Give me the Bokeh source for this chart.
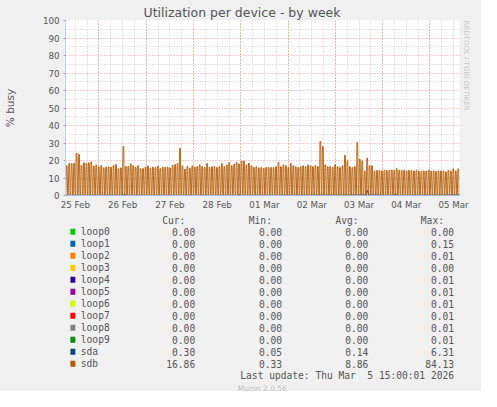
from bokeh.plotting import figure
from bokeh.models import Range1d, FixedTicker, Grid, Title
from bokeh.layouts import column
from bokeh.core.properties import value
from bokeh.embed import file_html
from bokeh.resources import INLINE

# ---------------- data ----------------
# x = hours since Wed 25 Feb 2026 07:00 (graph spans 200 h, up to Thu 5 Mar 15:00)
x_start, x_end = 0, 200
day_labels = ["25 Feb", "26 Feb", "27 Feb", "28 Feb", "01 Mar", "02 Mar", "03 Mar", "04 Mar", "05 Mar"]
label_hours = [5, 29, 53, 77, 101, 125, 149, 173, 197]          # noon of each day
midnight_hours = [17, 41, 65, 89, 113, 137, 161, 185]           # day boundaries
six_hour_hours = [5, 11, 17, 23, 29, 35, 41, 47, 53, 59, 65, 71, 77, 83, 89, 95, 101, 107,
                  113, 119, 125, 131, 137, 143, 149, 155, 161, 167, 173, 179, 185, 191, 197]
y_ticks = [0, 10, 20, 30, 40, 50, 60, 70, 80, 90, 100]
y_minor = [5, 15, 25, 35, 45, 55, 65, 75, 85, 95]

# sdb: busy spikes roughly every 75 minutes (peak % busy)
sdb_spacing_h = 1.25
sdb_peaks = [
    17.0, 18.3, 18.3, 18.3, 24.0, 23.5, 17.3, 18.7, 18.3, 18.7,
    19.2, 16.8, 17.5, 16.4, 17.1, 15.8, 16.2, 16.4, 16.2, 17.1,
    17.7, 15.4, 15.8, 28.0, 16.6, 16.6, 18.1, 17.1, 16.2, 17.1,
    15.4, 15.4, 16.2, 16.9, 15.6, 16.2, 16.0, 16.8, 15.4, 16.2,
    16.2, 16.2, 15.8, 17.3, 17.7, 18.3, 27.0, 16.9, 15.0, 16.6,
    15.6, 16.9, 16.2, 16.5, 17.5, 16.5, 16.0, 18.3, 16.0, 16.5,
    16.5, 16.0, 16.5, 18.3, 16.5, 17.5, 18.9, 17.0, 18.0, 18.9,
    18.0, 19.7, 19.7, 17.5, 18.5, 17.0, 16.0, 16.5, 15.8, 16.0,
    15.5, 16.0, 16.0, 16.0, 16.0, 16.5, 18.9, 16.5, 17.5, 17.0,
    16.0, 18.3, 17.0, 16.5, 16.0, 16.5, 17.0, 16.5, 17.5, 17.0,
    16.5, 17.0, 16.5, 30.9, 28.0, 17.5, 16.5, 16.5, 16.0, 17.7,
    16.5, 16.0, 17.0, 23.0, 19.8, 16.5, 16.0, 16.5, 30.3, 20.8,
    19.8, 14.0, 21.3, 17.0, 17.0, 14.0, 14.3, 14.3, 14.0, 14.3,
    14.3, 14.3, 14.5, 14.3, 15.4, 14.3, 14.3, 14.3, 14.0, 14.3,
    14.3, 14.0, 14.3, 14.0, 13.8, 14.0, 14.0, 14.3, 14.0, 14.0,
    13.8, 14.0, 14.0, 14.0, 13.5, 14.3, 14.0, 15.2, 14.0, 15.2,
]
sdb_trough = 0.4

# sda: near zero with a few small bumps
sda_hours = [0, 29.5, 30, 30.5, 88, 88.5, 89, 152.5, 153.3, 154, 167, 167.5, 168, 200]
sda_vals = [0.15, 0.15, 1.0, 0.15, 0.1, 0.8, 0.1, 0.3, 3.0, 0.3, 0.1, 1.2, 0.1, 0.3]

# legend table
series_names = ["loop0", "loop1", "loop2", "loop3", "loop4", "loop5", "loop6", "loop7",
                "loop8", "loop9", "sda", "sdb"]
series_colors = ["#00CC00", "#0066B3", "#FF8000", "#FFCC00", "#330099", "#990099", "#CCFF00",
                 "#FF0000", "#808080", "#008F00", "#00487D", "#B35A00"]
cur_vals = [0.00, 0.00, 0.00, 0.00, 0.00, 0.00, 0.00, 0.00, 0.00, 0.00, 0.30, 16.86]
min_vals = [0.00, 0.00, 0.00, 0.00, 0.00, 0.00, 0.00, 0.00, 0.00, 0.00, 0.05, 0.33]
avg_vals = [0.00, 0.00, 0.00, 0.00, 0.00, 0.00, 0.00, 0.00, 0.00, 0.00, 0.14, 8.86]
max_vals = [0.00, 0.15, 0.01, 0.00, 0.01, 0.01, 0.01, 0.01, 0.01, 0.01, 6.31, 84.13]

# ---------------- styles ----------------
BG = "#F0F0F0"
TXT = "#555555"
W = 481

# ---------------- main chart ----------------
p = figure(width=W, height=212, x_range=Range1d(x_start, x_end), y_range=Range1d(0, 100),
           output_backend="svg", toolbar_location=None,
           min_border_left=58, min_border_right=22, min_border_top=20, min_border_bottom=17)
p.border_fill_color = BG
p.background_fill_color = "white"
p.outline_line_color = None

p.title = Title(text="Utilization per device - by week", align="left", offset=78,
                text_font="DejaVu Sans", text_font_size="12.5px", text_font_style="normal",
                text_color=TXT, standoff=2)
p.add_layout(Title(text="RRDTOOL / TOBI OETIKER", align="left", offset=0,
                   text_font="DejaVu Sans", text_font_size="7px", text_font_style="normal",
                   text_color="#C8C8C8", standoff=4), "right")

# y axis
p.yaxis.ticker = FixedTicker(ticks=y_ticks, minor_ticks=y_minor)
p.yaxis.axis_label = "% busy"
p.yaxis.axis_label_text_font = "DejaVu Sans"
p.yaxis.axis_label_text_font_size = "10.5px"
p.yaxis.axis_label_text_font_style = "normal"
p.yaxis.axis_label_text_color = TXT
p.yaxis.axis_label_standoff = 24
p.yaxis.major_label_text_font = "DejaVu Sans"
p.yaxis.major_label_text_font_size = "8.7px"
p.yaxis.major_label_text_color = TXT
p.yaxis.major_label_standoff = 4
p.yaxis.major_tick_out = 2
p.yaxis.major_tick_in = 0
p.yaxis.major_tick_line_color = "#A0A0A0"
p.yaxis.minor_tick_out = 0
p.yaxis.minor_tick_in = 0
p.yaxis.axis_line_color = "#C4CCF0"

# x axis
p.xaxis.ticker = FixedTicker(ticks=label_hours)
p.xaxis.major_label_overrides = {h: lab for h, lab in zip(label_hours, day_labels)}
p.xaxis.major_label_text_font = "DejaVu Sans"
p.xaxis.major_label_text_font_size = "8.7px"
p.xaxis.major_label_text_color = TXT
p.xaxis.major_label_standoff = 4
p.xaxis.major_tick_out = 0
p.xaxis.major_tick_in = 0
p.xaxis.minor_tick_out = 0
p.xaxis.minor_tick_in = 0
p.xaxis.axis_line_color = "#A8B8E8"

# grids
p.xgrid.visible = False
p.ygrid.grid_line_color = "#FF0000"
p.ygrid.grid_line_alpha = 0.4
p.ygrid.grid_line_dash = "1 2"
p.ygrid.minor_grid_line_color = "#B0B0B0"
p.ygrid.minor_grid_line_alpha = 0.7
p.ygrid.minor_grid_line_dash = "1 2"
g6 = Grid(dimension=0, ticker=FixedTicker(ticks=six_hour_hours),
          grid_line_color="#B0B0B0", grid_line_alpha=0.7, grid_line_dash="1 2")
gday = Grid(dimension=0, ticker=FixedTicker(ticks=midnight_hours),
            grid_line_color="#FF0000", grid_line_alpha=0.4, grid_line_dash="1 2")
p.add_layout(g6)
p.add_layout(gday)

# series
p.line(sda_hours, sda_vals, line_color=series_colors[10], line_width=1)

sdb_x, sdb_y = [], []
for k, pk in enumerate(sdb_peaks):
    t = sdb_spacing_h * (k + 0.5)
    sdb_x += [t - 0.45, t - 0.2, t + 0.2, t + 0.45]
    sdb_y += [sdb_trough, pk, pk, sdb_trough]
p.line(sdb_x, sdb_y, line_color=series_colors[11], line_width=0.9)

# ---------------- legend table ----------------
H2 = 179
q = figure(width=W, height=H2, x_range=Range1d(0, W), y_range=Range1d(H2, 0),
           x_axis_type=None, y_axis_type=None, output_backend="svg", toolbar_location=None,
           min_border=0)
q.border_fill_color = BG
q.background_fill_color = BG
q.outline_line_color = None
q.xgrid.visible = False
q.ygrid.visible = False

MONO = value("DejaVu Sans Mono")
FS = "9.6px"
row_y = [19.3 + 12 * i for i in range(len(series_names))]

q.text(x=[146.3, 252, 357.7, 462], y=[8.3] * 4, text=["Cur:", "Min:", "Avg:", "Max:"],
       text_font=MONO, text_font_size=FS, text_color=TXT, text_align="right",
       text_baseline="middle")
q.rect(x=[9] * len(series_names), y=row_y, width=6, height=6,
       fill_color=series_colors, line_color=None)
q.text(x=[18.7] * len(series_names), y=row_y, text=series_names,
       text_font=MONO, text_font_size=FS, text_color=TXT, text_align="left",
       text_baseline="middle")
for col_x, vals in zip([158.3, 264.3, 369.7, 474.3], [cur_vals, min_vals, avg_vals, max_vals]):
    q.text(x=[col_x] * len(vals), y=row_y, text=["%.2f" % v for v in vals],
           text_font=MONO, text_font_size=FS, text_color=TXT, text_align="right",
           text_baseline="middle")
q.text(x=[474.3], y=[163.3], text=["Last update: Thu Mar\u00a0 5 15:00:01 2026"],
       text_font=MONO, text_font_size=FS, text_color=TXT, text_align="right",
       text_baseline="middle")
q.text(x=[240.3], y=[175.5], text=["Munin 2.0.56"],
       text_font=value("DejaVu Sans"), text_font_size="7.5px", text_color="#C0C0C0",
       text_align="center", text_baseline="middle")

layout = column(p, q, spacing=0)
layout.background = BG

tpl = """{% extends base %}
{% block preamble %}<style>html, body { background: #F0F0F0; }</style>{% endblock %}"""
try:
    html = file_html(layout, INLINE, template=tpl)
except Exception:
    html = file_html(layout, INLINE)
open("out.html", "w").write(html)
